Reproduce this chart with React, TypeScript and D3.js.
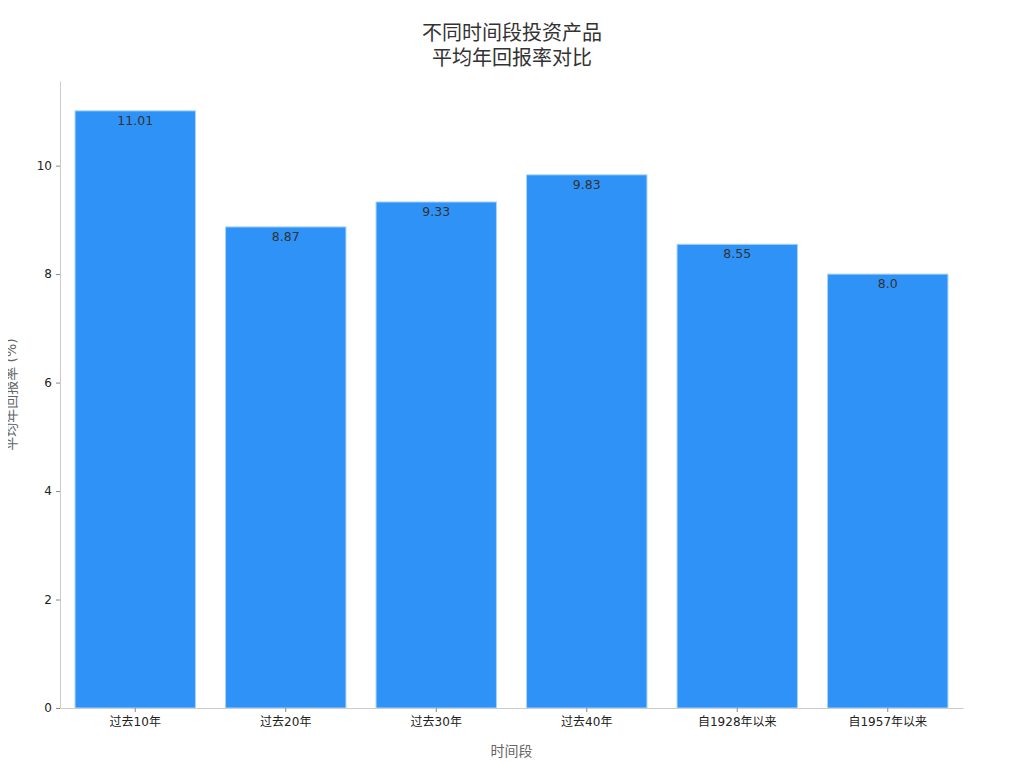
import { useEffect, useRef } from "react";
import * as d3 from "d3";

const periods = ["过去10年", "过去20年", "过去30年", "过去40年", "自1928年以来", "自1957年以来"];
const returns = [11.01, 8.87, 9.33, 9.83, 8.55, 8.0];
const returnLabels = ["11.01", "8.87", "9.33", "9.83", "8.55", "8.0"];
const yTicks = [0, 2, 4, 6, 8, 10];
const titleLines = ["不同时间段投资产品", "平均年回报率对比"];

const FONT = "'DejaVu Sans', 'Noto Sans CJK SC', sans-serif";

export default function App() {
  const ref = useRef<SVGSVGElement>(null);

  useEffect(() => {
    const W = 1024;
    const H = 768;
    const m = { left: 60, right: 61, top: 81, bottom: 60 };
    const svg = d3.select(ref.current);
    svg.selectAll("*").remove();
    svg.attr("width", W).attr("height", H).attr("viewBox", `0 0 ${W} ${H}`);

    const x = d3
      .scaleBand<string>()
      .domain(periods)
      .range([m.left, W - m.right])
      .paddingInner(0.2)
      .paddingOuter(0.1);
    const ymax = d3.max(returns)! * 1.05;
    const y = d3.scaleLinear().domain([0, ymax]).range([H - m.bottom, m.top]);

    // title
    svg
      .append("text")
      .attr("text-anchor", "middle")
      .attr("font-family", FONT)
      .attr("font-size", 20)
      .attr("fill", "#333")
      .selectAll("tspan")
      .data(titleLines)
      .join("tspan")
      .attr("x", W / 2)
      .attr("y", (_, i) => 40 + i * 25)
      .text((d) => d);

    // bars
    const data = periods.map((p, i) => ({ p, v: returns[i], label: returnLabels[i] }));
    svg
      .append("g")
      .selectAll("rect")
      .data(data)
      .join("rect")
      .attr("x", (d) => x(d.p)!)
      .attr("y", (d) => y(d.v))
      .attr("width", x.bandwidth())
      .attr("height", (d) => y(0) - y(d.v))
      .attr("fill", "#2e92f7")
      .attr("stroke", "#a9d2fb")
      .attr("stroke-width", 1);

    svg
      .append("g")
      .selectAll("text")
      .data(data)
      .join("text")
      .attr("x", (d) => x(d.p)! + x.bandwidth() / 2)
      .attr("y", (d) => y(d.v) + 14)
      .attr("text-anchor", "middle")
      .attr("font-family", FONT)
      .attr("font-size", 12.5)
      .attr("fill", "#333")
      .text((d) => d.label);

    // axes
    const xAxis = svg
      .append("g")
      .attr("transform", `translate(0,${H - m.bottom})`)
      .call(d3.axisBottom(x).tickSize(4).tickSizeOuter(0).tickPadding(5));
    const yAxis = svg
      .append("g")
      .attr("transform", `translate(${m.left},0)`)
      .call(d3.axisLeft(y).tickValues(yTicks).tickFormat(d3.format("d")).tickSize(4).tickSizeOuter(0).tickPadding(4));
    for (const ax of [xAxis, yAxis]) {
      ax.select(".domain").attr("stroke", "#ccc");
      ax.selectAll(".tick line").attr("stroke", "#888");
      ax.selectAll(".tick text")
        .attr("font-family", FONT)
        .attr("font-size", 12)
        .attr("fill", "#222");
    }

    svg
      .append("text")
      .attr("x", (m.left + W - m.right) / 2)
      .attr("y", 756)
      .attr("text-anchor", "middle")
      .attr("font-family", FONT)
      .attr("font-size", 14)
      .attr("fill", "#666")
      .text("时间段");

    svg
      .append("text")
      .attr("transform", `translate(16,${(m.top + H - m.bottom) / 2}) rotate(-90)`)
      .attr("text-anchor", "middle")
      .attr("font-family", FONT)
      .attr("font-size", 14)
      .attr("fill", "#666")
      .text("平均年回报率 (%)");
  }, []);

  return (
    <div style={{ margin: -8 }}>
      <svg ref={ref} style={{ display: "block" }} />
    </div>
  );
}
